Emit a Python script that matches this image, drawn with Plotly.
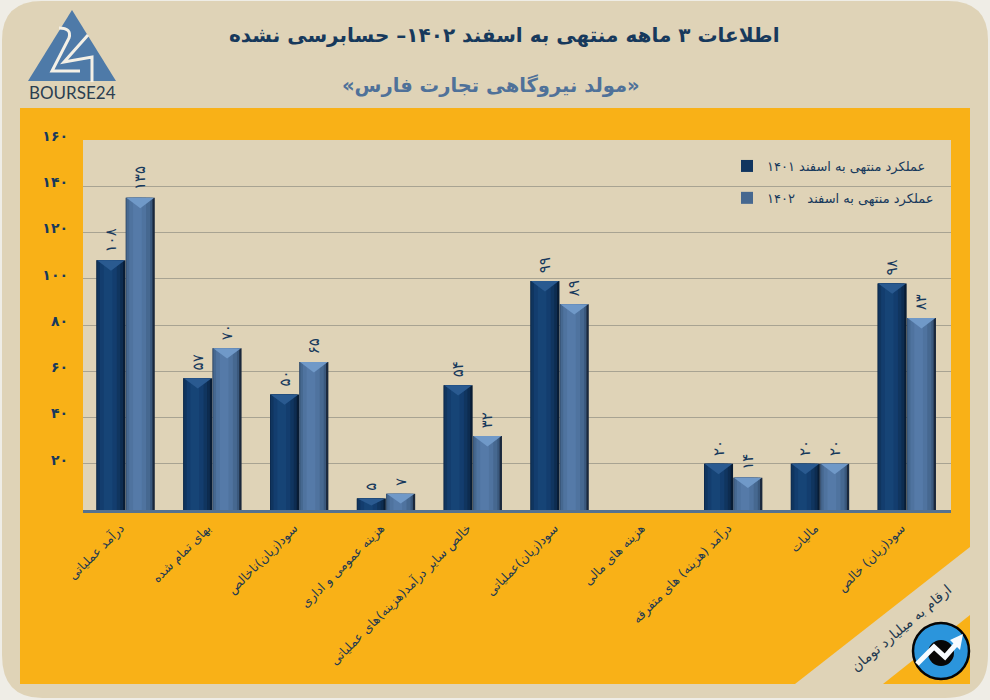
import plotly.graph_objects as go

categories = ["درآمد عملیاتی", "بهای تمام شده", "سود(زیان)ناخالص", "هزینه عمومی و اداری",
              "خالص سایر درآمد(هزینه)های عملیاتی", "سود(زیان)عملیاتی", "هزینه های مالی",
              "درآمد (هزینه) های متفرقه", "مالیات", "سود(زیان) خالص"]
values_1401 = [108, 57, 50, 5, 54, 99, None, 20, 20, 98]
values_1402 = [135, 70, 64, 7, 32, 89, None, 14, 20, 83]
labels_1401 = ["۱۰۸", "۵۷", "۵۰", "۵", "۵۴", "۹۹", "", "۲۰", "۲۰", "۹۸"]
labels_1402 = ["۱۳۵", "۷۰", "۶۵", "۷", "۳۲", "۸۹", "", "۱۴", "۲۰", "۸۳"]
name_1401 = "عملکرد منتهی به اسفند ۱۴۰۱"
name_1402 = "عملکرد منتهی به اسفند\u00a0\u00a0 ۱۴۰۲"
y_ticks = [20, 40, 60, 80, 100, 120, 140, 160]
y_labels = ["۲۰", "۴۰", "۶۰", "۸۰", "۱۰۰", "۱۲۰", "۱۴۰", "۱۶۰"]
title_text = "اطلاعات ۳ ماهه منتهی به اسفند ۱۴۰۲– حسابرسی نشده"
subtitle_text = "«مولد نیروگاهی تجارت فارس»"
unit_text = "ارقام به میلیارد تومان"

FONT = "DejaVu Sans"
BEIGE = "#DFD3B7"
ORANGE = "#F9B117"
NAVY = "#17395C"
W, H = 990, 700


def px(x):
    return x / W


def py(y):
    return 1 - y / H


def paper_path(points):
    return "M" + " L".join(f"{px(a):.5f},{py(b):.5f}" for a, b in points) + " Z"


BAR_W = 0.334
START_1401 = -BAR_W - 0.011
START_1402 = -0.007
# (left fraction, right fraction, colour): bevel ramps across each bar
ramp_dark = [(0, 1, "#081C34"), (0, .92, "#0D2C50"), (.03, .82, "#10355F"), (.12, .70, "#133D6E"), (.25, .55, "#164476")]
ramp_light = [(0, 1, "#1A283C"), (0, .92, "#3A587C"), (.04, .84, "#466890"), (.12, .70, "#4F739F"), (.25, .55, "#557AA8")]

fig = go.Figure()


def add_series(values, labels, name, ramp, start, group):
    n = len(values)
    for k, (a, b, colour) in enumerate(ramp):
        first = k == 0
        fig.add_trace(go.Bar(
            x=list(range(n)), y=values, name=name, legendgroup=group, showlegend=k == 2,
            offset=start + a * BAR_W, width=(b - a) * BAR_W,
            marker=dict(color=colour, line=dict(width=0)),
            text=["\u00a0" + s if s else "" for s in labels] if first else None,
            textposition="outside" if first else "none",
            textangle=-90, cliponaxis=False, constraintext="none",
            textfont=dict(family=FONT, size=15, color=NAVY),
            hoverinfo="skip",
        ))


add_series(values_1401, labels_1401, name_1401, ramp_dark, START_1401, "a")
add_series(values_1402, labels_1402, name_1402, ramp_light, START_1402, "b")

shapes = [
    dict(type="path", xref="paper", yref="paper", layer="below", line_width=0, fillcolor=BEIGE,
         path=(f"M{px(42)},{py(1)} L{px(948)},{py(1)} Q{px(988)},{py(1)} {px(988)},{py(40)} "
               f"L{px(988)},{py(655)} Q{px(988)},{py(698)} {px(945)},{py(698)} "
               f"L{px(42)},{py(698)} Q{px(2)},{py(698)} {px(2)},{py(655)} "
               f"L{px(2)},{py(40)} Q{px(2)},{py(1)} {px(42)},{py(1)} Z")),
    dict(type="path", xref="paper", yref="paper", layer="below", line_width=0, fillcolor=ORANGE,
         path=paper_path([(20, 108), (970, 108), (970, 547), (795, 684), (20, 684)])),
    dict(type="path", xref="paper", yref="paper", layer="below", line_width=0, fillcolor=ORANGE,
         path=paper_path([(970, 615), (970, 684), (883, 684)])),
    dict(type="path", xref="paper", yref="paper", layer="below", line_width=0, fillcolor=BEIGE,
         path=paper_path([(83, 140), (951, 140), (951, 510), (83, 510)])),
    # logo
    dict(type="path", xref="paper", yref="paper", layer="above", line_width=0, fillcolor="#4E7AA8",
         path=paper_path([(72, 10), (116, 81), (28, 81)])),
    dict(type="path", xref="paper", yref="paper", layer="above", fillcolor="rgba(0,0,0,0)",
         line=dict(color="#F4F0E6", width=3),
         path=(f"M{px(59)},{py(28)} Q{px(72)},{py(28)} {px(69)},{py(38)} L{px(52)},{py(71)} L{px(80)},{py(71)}")),
    dict(type="path", xref="paper", yref="paper", layer="above", fillcolor="rgba(0,0,0,0)",
         line=dict(color="#F4F0E6", width=3),
         path=(f"M{px(88)},{py(35)} L{px(64)},{py(62)} L{px(92)},{py(57)} L{px(92)},{py(82)}")),
    # corner badge
    dict(type="circle", xref="paper", yref="paper", layer="above", fillcolor="#2B95DC",
         line=dict(color="#050505", width=2.5),
         x0=px(913), x1=px(969), y0=py(679), y1=py(623)),
    dict(type="circle", xref="paper", yref="paper", layer="above", fillcolor="#070707", line_width=0,
         x0=px(928), x1=px(954), y0=py(666), y1=py(640)),
    dict(type="path", xref="paper", yref="paper", layer="above", fillcolor="rgba(0,0,0,0)",
         line=dict(color="#F7FBFF", width=5),
         path=f"M{px(917)},{py(664)} L{px(934)},{py(647)} L{px(945)},{py(657)} L{px(958)},{py(642)}"),
    dict(type="path", xref="paper", yref="paper", layer="above", line_width=0, fillcolor="#F7FBFF",
         path=paper_path([(963, 634), (960, 650), (950, 640)])),
]

# Top bevels, placed from the data values
for values, start, colour in ((values_1401, START_1401, "#2A5A90"), (values_1402, START_1402, "#7099C8")):
    for i, v in enumerate(values):
        if v is None:
            continue
        depth = min(4.5, v * 0.6)
        x0 = i + start + 0.02 * BAR_W
        x1 = i + start + 0.98 * BAR_W
        xm = (x0 + x1) / 2
        shapes.append(dict(type="path", xref="x", yref="y", layer="above", line_width=0, fillcolor=colour,
                           path=f"M{x0:.4f},{v} L{x1:.4f},{v} L{xm:.4f},{v - depth} Z"))

annotations = [
    dict(text=title_text, x=px(505), y=py(35), font=dict(size=20, color=NAVY, family=FONT, weight="bold")),
    dict(text=subtitle_text, x=px(491), y=py(85), font=dict(size=19.5, color="#4F7199", family=FONT, weight="bold")),
    dict(text=unit_text, x=px(901), y=py(628), textangle=-40, font=dict(size=14, color="#1F3A50", family=FONT)),
    dict(text="BOURSE24", x=px(72), y=py(92), font=dict(size=17, color="#2B3E50", family="Lato")),
]
for a in annotations:
    a.update(xref="paper", yref="paper", showarrow=False, xanchor="center", yanchor="middle")

fig.update_layout(
    width=W, height=H, margin=dict(l=0, r=0, t=0, b=0, autoexpand=False),
    paper_bgcolor="#EFEDE6", plot_bgcolor="rgba(0,0,0,0)",
    barmode="overlay", showlegend=True,
    shapes=shapes, annotations=annotations,
    font=dict(family=FONT),
    legend=dict(x=px(727), y=py(151), xanchor="left", yanchor="top", bgcolor="rgba(0,0,0,0)",
                tracegroupgap=12, traceorder="grouped", itemclick=False, itemdoubleclick=False,
                font=dict(family=FONT, size=13, color=NAVY)),
    xaxis=dict(domain=[px(83), px(951)], range=[-0.5, 9.5], tickmode="array", automargin=False,
               tickvals=list(range(len(categories))), ticktext=categories, tickangle=-45,
               showgrid=False, showline=True, linecolor="#56728F", linewidth=3, ticks="",
               ticklabelstandoff=3, ticklabelshift=-6,
               zeroline=False, tickfont=dict(family=FONT, size=12.5, color="#1F3A50")),
    yaxis=dict(domain=[py(510), py(140)], range=[0, 160], tickmode="array", automargin=False,
               tickvals=y_ticks, ticktext=y_labels, showgrid=True, gridcolor="#A8A392", gridwidth=1,
               zeroline=False, showline=False, ticks="", ticklabelstandoff=14, ticklabelshift=-4,
               tickfont=dict(family=FONT, size=14, color=NAVY, weight="bold")),
)

fig.write_html("out.html", config=dict(displayModeBar=False),
               post_script="document.body.style.margin='0';document.body.style.background='#EFEDE6';document.body.style.overflow='hidden';")
